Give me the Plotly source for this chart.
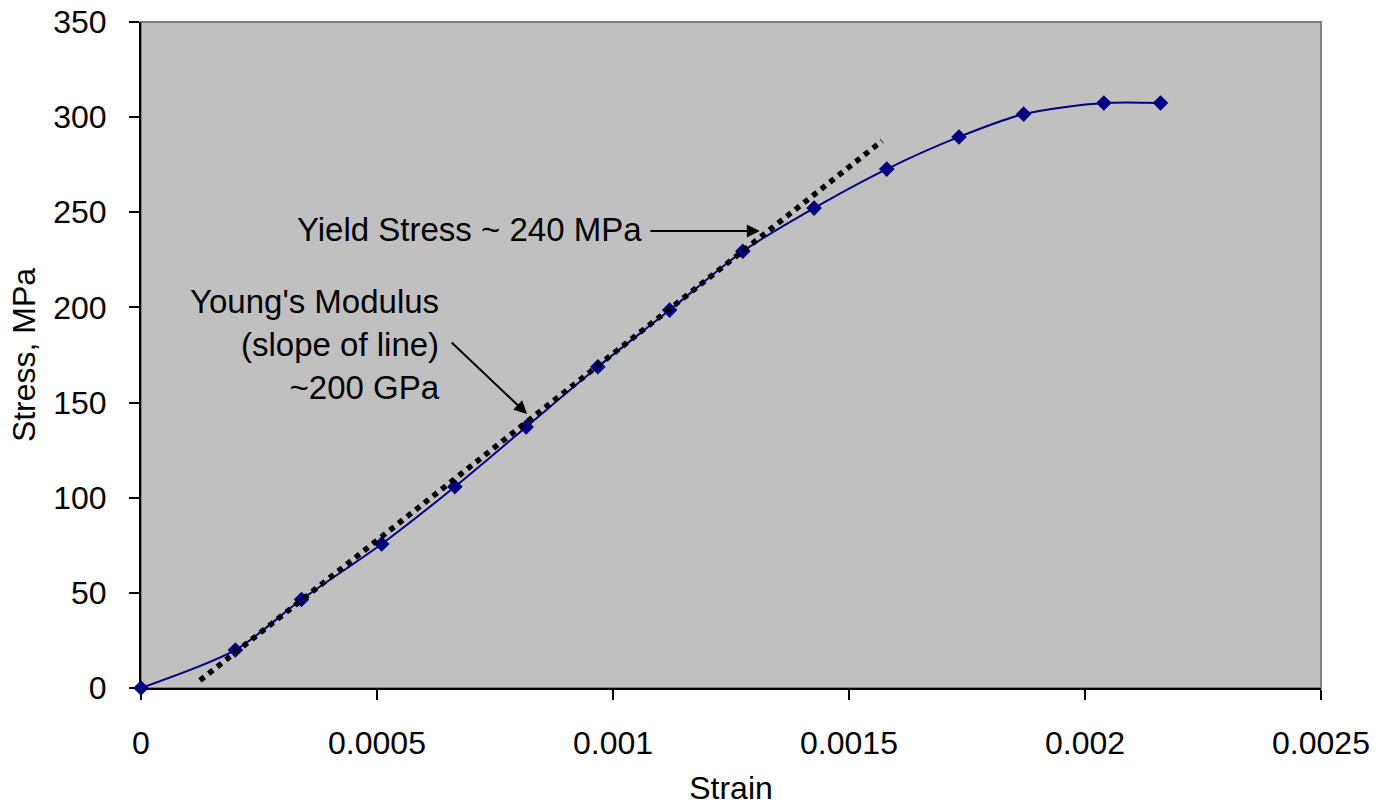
import plotly.graph_objects as go

strain = [0, 0.0002, 0.00034, 0.00051, 0.000665, 0.000816, 0.000968, 0.00112,
          0.001275, 0.001426, 0.00158, 0.001733, 0.00187, 0.00204, 0.00216]
stress = [0, 20, 46.5, 75.7, 105.8, 137.2, 168.8, 198.6,
          229.5, 252.2, 272.7, 289.6, 301.6, 307.4, 307.4]

fit_strain = [0.000125, 0.00157]
fit_stress = [4.0, 287.5]

x_ticks = [0, 0.0005, 0.001, 0.0015, 0.002, 0.0025]
x_tick_labels = ["0", "0.0005", "0.001", "0.0015", "0.002", "0.0025"]
y_ticks = [0, 50, 100, 150, 200, 250, 300, 350]

FONT = "Liberation Sans, Arial, sans-serif"
FS = 32
FA = 33

fig = go.Figure()
fig.add_trace(go.Scatter(
    x=strain, y=stress, mode="lines+markers", cliponaxis=False,
    line=dict(color="#000080", width=2, shape="spline", smoothing=0.8),
    marker=dict(symbol="diamond", size=12, color="#000080"),
    showlegend=False, hoverinfo="skip"))
fig.add_trace(go.Scatter(
    x=fit_strain, y=fit_stress, mode="lines",
    line=dict(color="black", width=5.5, dash="dot"),
    showlegend=False, hoverinfo="skip"))

fig.add_annotation(x=0.001066, y=240.7, xref="x", yref="y", text="Yield Stress ~ 240 MPa",
                   showarrow=False, xanchor="right", yanchor="middle",
                   font=dict(family=FONT, size=FA, color="black"))
fig.add_annotation(x=0.001311, y=240.2, ax=0.001076, ay=240.2, xref="x", yref="y",
                   axref="x", ayref="y", text="", showarrow=True,
                   arrowhead=2, arrowsize=1.3, arrowwidth=2, arrowcolor="black")
fig.add_annotation(x=0.000638, y=180.5, xref="x", yref="y",
                   text="Young's Modulus<br>(slope of line)<br>~200 GPa",
                   showarrow=False, xanchor="right", yanchor="middle", align="right",
                   font=dict(family=FONT, size=FA, color="black"))
fig.add_annotation(x=0.000818, y=144, ax=0.000655, ay=182.3, xref="x", yref="y",
                   axref="x", ayref="y", text="", showarrow=True,
                   arrowhead=2, arrowsize=1.3, arrowwidth=2, arrowcolor="black")

# gray frame on top/right
fig.add_shape(type="rect", xref="paper", yref="paper", x0=0, y0=0, x1=1, y1=1,
              line=dict(color="#808080", width=2), layer="below")

fig.update_layout(
    width=1379, height=807,
    margin=dict(l=141, r=58, t=22, b=119, autoexpand=False),
    paper_bgcolor="white", plot_bgcolor="#C0C0C0",
    font=dict(family=FONT, size=FS, color="black"),
    xaxis=dict(range=[0, 0.0025], tickvals=x_ticks, ticktext=x_tick_labels,
               showgrid=False, zeroline=False, showline=True, linecolor="black", linewidth=2,
               ticks="outside", ticklen=10, tickcolor="black", tickwidth=1.5,
               ticklabelstandoff=16, automargin=False, layer="below traces",
               title=dict(text="Strain", font=dict(family=FONT, size=FS), standoff=16)),
    yaxis=dict(range=[0, 350], tickvals=y_ticks,
               showgrid=False, zeroline=False, showline=True, linecolor="black", linewidth=2,
               ticks="outside", ticklen=10, tickcolor="black", tickwidth=1.5,
               ticklabelstandoff=16, automargin=False, layer="below traces",
               title=dict(text="Stress, MPa", font=dict(family=FONT, size=FS), standoff=8)),
)

fig.write_html("out.html", config={"displayModeBar": False},
               post_script="document.body.style.margin='0';document.body.style.overflow='hidden';")
